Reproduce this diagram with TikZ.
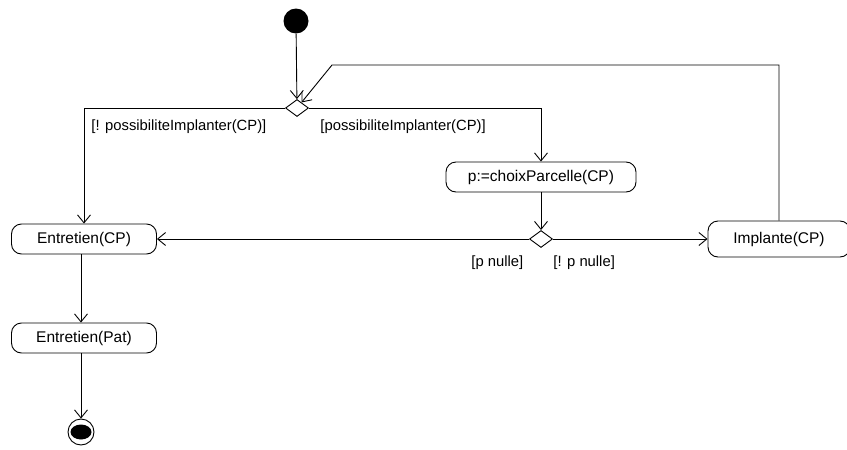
\documentclass[tikz,border=0pt]{standalone}
\usepackage{fontspec}
\setmainfont{Liberation Sans}
\usetikzlibrary{positioning,arrows.meta,shapes.geometric}

\begin{document}
\begin{tikzpicture}[x=1pt,y=-1pt,>={Straight Barb[length=8pt,width=13pt]},line width=0.9pt,
  action/.style={draw,rounded corners=10pt,minimum width=145pt,minimum height=30pt,inner sep=2pt,font=\fontsize{15.5}{18}\selectfont},
  choice/.style={draw,diamond,inner sep=0pt,minimum width=23pt,minimum height=17pt},
  guard/.style={anchor=west,inner sep=0pt,font=\fontsize{14.8}{17}\selectfont}]
  \useasboundingbox (0,0) rectangle (847,450);
  \node[circle,fill,inner sep=0pt,minimum size=25pt] (start) at (296,21) {};
  \node[choice] (d1) at (297,108) {};
  \node[action] (ecp) at (84,239) {Entretien(CP)};
  \node[action,minimum width=190pt] (choix) at (541,177) {p:=choixParcelle(CP)};
  \node[choice] (d2) at (541,239) {};
  \node[action,minimum width=142pt,minimum height=36pt] (impl) at (779,239) {Implante(CP)};
  \node[action] (epat) at (84,338) {Entretien(Pat)};
  \node[circle,draw,inner sep=0pt,minimum size=26pt] (end) at (81,432) {};
  \fill (end.center) ellipse (10.5 and 7.5);
  \coordinate (bend) at (332,65);
  % gardes
  \node[guard] (g1) at (91,127) {[! possibiliteImplanter(CP)]};
  \node[guard] (g2) at (320,127) {[possibiliteImplanter(CP)]};
  \node[guard] (g3) at (471,263) {[p nulle]};
  \node[guard] (g4) at (553,263) {[! p nulle]};
  % transitions
  \draw[->] (start)--(d1);
  \draw[->] (d1.west) -| (ecp.north);
  \draw[->] (d1.east) -| (choix.north);
  \draw[->] (choix)--(d2);
  \draw[->] (d2.west)--(ecp.east);
  \draw[->] (d2.east)--(impl.west);
  \draw[->] (impl.north) |- (bend) -- (d1);
  \draw[->] (ecp.south -| 81,0)--(epat.north -| 81,0);
  \draw[->] (epat.south -| end)--(end);
\end{tikzpicture}
\end{document}
